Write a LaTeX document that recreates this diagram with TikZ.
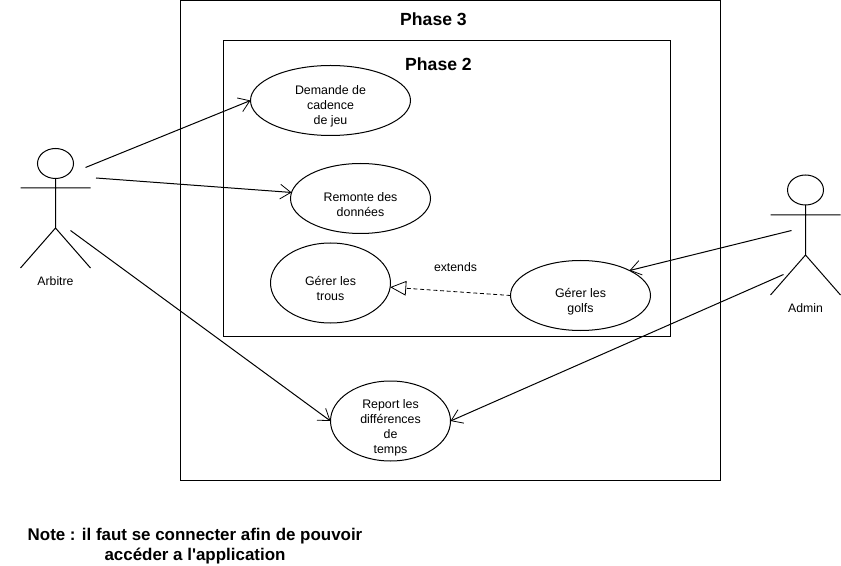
\documentclass[tikz,border=0pt]{standalone}
\usepackage{fontspec}
\setmainfont[Ligatures=TeXOff]{Liberation Sans}
\usetikzlibrary{arrows.meta,shapes.geometric}
\tikzset{
  px/.style={x=0.75pt,y=-0.75pt},
  usecase/.style={draw=black,line width=0.75pt,ellipse,inner sep=0pt,outer sep=0pt,minimum width=#1*0.75pt,minimum height=52.5pt},
  uctext/.style={align=center,inner sep=0pt,font=\fontsize{9.3pt}{11.25pt}\selectfont},
  box/.style={draw=black,line width=0.75pt},
  phase/.style={font=\fontsize{13.2pt}{15pt}\selectfont\bfseries,inner sep=0pt},
  small/.style={font=\fontsize{9.2pt}{11pt}\selectfont,inner sep=0pt},
  assoc/.style={draw=black,line width=0.75pt,-{Straight Barb[length=8pt,width=11pt,line width=0.6pt]}},
  ext/.style={draw=black,line width=0.6pt,densely dashed,-{Triangle[open,length=12pt,width=11pt,fill=white,line width=0.6pt]}},
  actorline/.style={draw=black,line width=0.75pt},
}
\begin{document}
\begin{tikzpicture}[px]
\useasboundingbox (0,0) rectangle (841,566);
\fill[white] (0,0) rectangle (841,566);
\draw[box] (180.5,0.5) rectangle (720.5,480.5);
\draw[box] (223.5,40.5) rectangle (670.5,336.5);
\node[phase] (p3) at (433.5,19) {Phase 3};
\node[phase] (p2) at (438.5,64.5) {Phase 2};
% use cases
\node[usecase=160] (u1) at (330.5,100.5) {};
\node[uctext] (t1) at (330.5,106.5) {Demande de\\cadence\\de jeu};
\node[usecase=140] (u2) at (360.5,198.5) {};
\node[uctext] (t2) at (360.5,204.5) {Remonte des\\données};
\node[usecase=120,minimum height=60pt] (u3) at (330.5,283) {};
\node[uctext] (t3) at (330.5,288.5) {Gérer les\\trous};
\node[usecase=140] (u4) at (580.5,295.5) {};
\node[uctext] (t4) at (580.5,301.5) {Gérer les\\golfs};
\node[usecase=120,minimum height=60pt] (u5) at (390.5,421) {};
\node[uctext] (t5) at (390.5,428) {Report les\\différences\\de\\temps};
\node[small] (ex) at (455.5,267) {extends};
% actors
\draw[actorline] (55.5,163.5) ellipse[x radius=18,y radius=15];
\draw[actorline] (55.5,178.5) -- (55.5,228) (20.5,188) -- (90.5,188) (55.5,228) -- (20.5,268) (55.5,228) -- (90.5,268);
\draw[actorline] (805.5,190) ellipse[x radius=18,y radius=15];
\draw[actorline] (805.5,205) -- (805.5,255) (770.5,215) -- (840.5,215) (805.5,255) -- (770.5,295) (805.5,255) -- (840.5,295);
\node[small] (arb) at (55.5,281) {Arbitre};
\node[small] (adm) at (805.5,308) {Admin};
\coordinate (a1) at (85.5,167.5);
\coordinate (a2) at (96,178);
\coordinate (a3) at (70.5,230.5);
\coordinate (b1) at (791.5,230.5);
\coordinate (b2) at (783.5,274.5);
\draw[assoc] (a1) -- (u1.west);
\draw[assoc] (a2) -- (u2.175);
\draw[assoc] (a3) -- (u5.west);
\draw[assoc] (b1) -- (u4.27);
\draw[assoc] (b2) -- (u5.east);
\draw[ext] (u4.west) -- (u3.-4);
\node[font=\fontsize{12.7pt}{15pt}\selectfont\bfseries,align=center,inner sep=0pt] (note) at (195,546) {Note : il faut se connecter afin de pouvoir\\accéder a l'application};
\end{tikzpicture}
\end{document}
